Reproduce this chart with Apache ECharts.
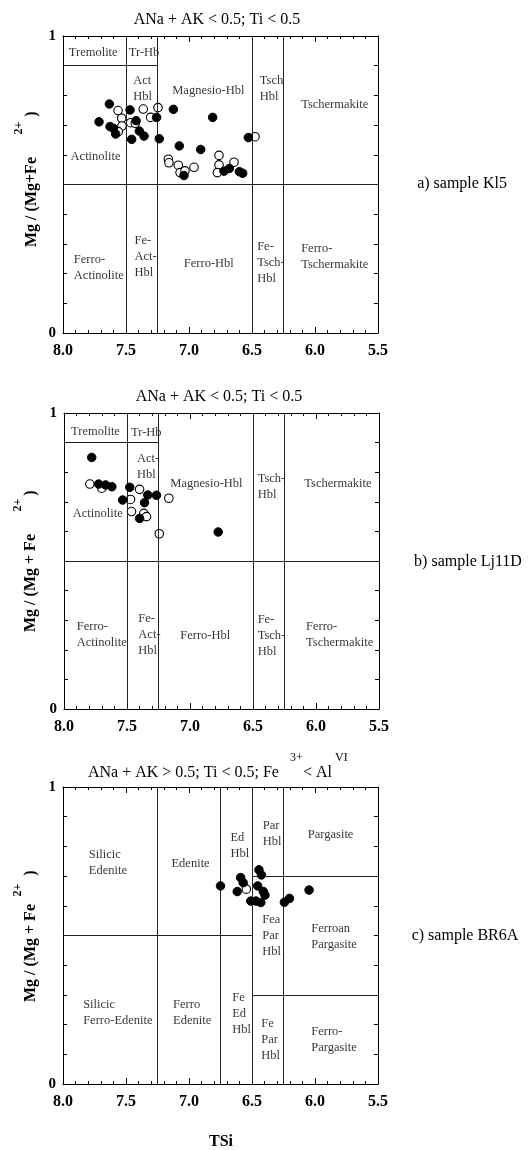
<!DOCTYPE html>
<html><head><meta charset="utf-8">
<script src="https://cdn.jsdelivr.net/npm/echarts@6/dist/echarts.min.js"></script>
<style>html,body{margin:0;padding:0;background:#fff}#c{width:529px;height:1150px}</style>
</head><body><div id="c"></div>
<script>
// ---- data: [TSi, Mg/(Mg+Fe2+)] ----
const kl5Filled = [[7.632,0.771],[7.714,0.711],[7.627,0.695],[7.60,0.689],[7.582,0.670],[7.468,0.751],[7.42,0.715],[7.394,0.680],[7.357,0.663],[7.455,0.652],[7.257,0.726],[7.236,0.654],[7.124,0.753],[7.077,0.630],[6.907,0.618],[6.812,0.726],[6.529,0.658],[7.04,0.530],[6.722,0.545],[6.68,0.554],[6.60,0.543],[6.574,0.538]];
const kl5Open = [[7.563,0.749],[7.534,0.723],[7.532,0.697],[7.561,0.678],[7.463,0.708],[7.426,0.706],[7.363,0.754],[7.304,0.726],[7.246,0.759],[6.476,0.661],[7.164,0.585],[7.159,0.573],[7.085,0.565],[7.071,0.540],[7.032,0.546],[6.96,0.558],[6.762,0.598],[6.762,0.566],[6.775,0.540],[6.643,0.575]];
const lj11dFilled = [[7.78,0.850],[7.725,0.760],[7.67,0.757],[7.62,0.751],[7.478,0.749],[7.535,0.706],[7.335,0.723],[7.266,0.722],[7.361,0.697],[7.40,0.644],[6.776,0.598]];
const lj11dOpen = [[7.795,0.760],[7.70,0.746],[7.472,0.708],[7.40,0.742],[7.464,0.667],[7.367,0.661],[7.345,0.650],[7.168,0.712],[7.244,0.592]];
const br6aFilled = [[6.75,0.667],[6.617,0.648],[6.59,0.695],[6.57,0.678],[6.445,0.721],[6.425,0.704],[6.455,0.667],[6.41,0.648],[6.397,0.636],[6.51,0.616],[6.468,0.616],[6.43,0.611],[6.243,0.612],[6.203,0.625],[6.047,0.653]];
const br6aOpen = [[6.545,0.656]];

// field boundaries [x1,y1,x2,y2]
const boundsCalcic = [[7.5,0,7.5,1],[7.25,0,7.25,1],[6.5,0,6.5,1],[6.25,0,6.25,1],[8,0.5,5.5,0.5],[8,0.9,7.25,0.9]];
const boundsSodic = [[7.25,0,7.25,1],[6.75,0,6.75,1],[6.5,0,6.5,1],[6.25,0,6.25,1],[8,0.5,6.5,0.5],[6.5,0.7,5.5,0.7],[6.5,0.3,5.5,0.3]];

// field names [left TSi, y, text]
const fieldsA = [[7.958,0.945,'Tremolite'],[7.482,0.945,'Tr-Hb'],[7.447,0.824,'Act\nHbl'],[7.137,0.816,'Magnesio-Hbl'],[6.442,0.824,'Tsch\nHbl'],[6.114,0.768,'Tschermakite'],[7.944,0.594,'Actinolite'],[7.918,0.221,'Ferro-\nActinolite'],[7.437,0.257,'Fe-\nAct-\nHbl'],[7.045,0.232,'Ferro-Hbl'],[6.463,0.235,'Fe-\nTsch-\nHbl'],[6.114,0.257,'Ferro-\nTschermakite']];
const fieldsB = [[7.948,0.937,'Tremolite'],[7.472,0.933,'Tr-Hb'],[7.425,0.819,'Act-\nHbl'],[7.16,0.762,'Magnesio-Hbl'],[6.467,0.751,'Tsch-\nHbl'],[6.097,0.760,'Tschermakite'],[7.935,0.661,'Actinolite'],[7.903,0.25,'Ferro-\nActinolite'],[7.414,0.25,'Fe-\nAct-\nHbl'],[7.081,0.247,'Ferro-Hbl'],[6.467,0.247,'Fe-\nTsch-\nHbl'],[6.083,0.25,'Ferro-\nTschermakite']];
const fieldsC = [[7.799,0.745,'Silicic\nEdenite'],[7.143,0.741,'Edenite'],[6.675,0.801,'Ed\nHbl'],[6.418,0.844,'Par\nHbl'],[6.061,0.841,'Pargasite'],[6.423,0.498,'Fea\nPar\nHbl'],[6.034,0.496,'Ferroan\nPargasite'],[7.844,0.24,'Silicic\nFerro-Edenite'],[7.13,0.24,'Ferro\nEdenite'],[6.661,0.238,'Fe\nEd\nHbl'],[6.431,0.148,'Fe\nPar\nHbl'],[6.034,0.148,'Ferro-\nPargasite']];

const xTickLabels = ['5.5','6.0','6.5','7.0','7.5','8.0'];
const sampleNames = ['a) sample Kl5','b) sample Lj11D','c) sample BR6A'];

const SERIF = 'Liberation Serif';
const grids = [
  {left:63, top:36, width:315, height:297},
  {left:64, top:413, width:315, height:296},
  {left:63, top:787, width:315, height:297}
];
const xAxes = [], yAxes = [], series = [];
grids.forEach((g,i)=>{
  const base = {gridIndex:i, type:'value', min:5.5, max:8, interval:0.5, inverse:true,
    axisLine:{show:true, onZero:false, lineStyle:{color:'#000', width:1}},
    axisTick:{show:true, inside:true, length:6, lineStyle:{color:'#000'}},
    minorTick:{show:true, splitNumber:5, length:3, lineStyle:{color:'#000'}},
    splitLine:{show:false}, minorSplitLine:{show:false}};
  xAxes.push(Object.assign({}, base, {position:'bottom',
    axisLabel:{show:true, margin:10, fontFamily:SERIF, fontWeight:'bold', fontSize:16, color:'#000',
      formatter:v=>{const s=Number(v).toFixed(1); return xTickLabels.includes(s)?s:'';}}}));
  xAxes.push(Object.assign({}, base, {position:'top', axisLabel:{show:false}}));
  const ybase = {gridIndex:i, type:'value', min:0, max:1, interval:0.1,
    axisLine:{show:true, onZero:false, lineStyle:{color:'#000', width:1}},
    axisTick:{show:true, inside:true, length:4, lineStyle:{color:'#000'}},
    splitLine:{show:false}};
  yAxes.push(Object.assign({}, ybase, {position:'left',
    axisLabel:{show:true, margin:7, fontFamily:SERIF, fontWeight:'bold', fontSize:15, color:'#000',
      formatter:v=>{ if(Math.abs(v)<1e-6) return '0'; if(Math.abs(v-1)<1e-6) return '1'; return '';}}}));
  yAxes.push(Object.assign({}, ybase, {position:'right', axisLabel:{show:false}}));
});

function segs(b){return b.map(s=>[{coord:[s[0],s[1]]},{coord:[s[2],s[3]]}]);}
const panels = [
  {filled:kl5Filled, open:kl5Open, bounds:boundsCalcic, fields:fieldsA},
  {filled:lj11dFilled, open:lj11dOpen, bounds:boundsCalcic, fields:fieldsB},
  {filled:br6aFilled, open:br6aOpen, bounds:boundsSodic, fields:fieldsC}
];
panels.forEach((p,i)=>{
  const xi = i*2, yi = i*2;
  series.push({type:'scatter', xAxisIndex:xi, yAxisIndex:yi, data:p.fields.map(f=>({value:[f[0],f[1]], name:f[2]})),
    symbolSize:1, itemStyle:{color:'rgba(0,0,0,0)'}, silent:true, z:3,
    label:{show:true, position:'right', distance:0, formatter:d=>d.name, fontFamily:SERIF, fontSize:12.5, lineHeight:16, color:'#000'},
    markLine:{silent:true, symbol:['none','none'], animation:false, label:{show:false},
      lineStyle:{color:'#222', width:1, type:'solid'}, emphasis:{disabled:true}, data:segs(p.bounds)}});
  series.push({type:'scatter', xAxisIndex:xi, yAxisIndex:yi, data:p.open, symbolSize:8.5, z:4,
    itemStyle:{color:'#fff', borderColor:'#000', borderWidth:1.1, opacity:1}});
  series.push({type:'scatter', xAxisIndex:xi, yAxisIndex:yi, data:p.filled, symbolSize:8.5, z:5,
    itemStyle:{color:'#000', borderColor:'#000', borderWidth:1, opacity:1}});
});

const tFont = {fontFamily:SERIF, fontSize:16, fill:'#000'};
const bFont = {fontFamily:SERIF, fontSize:16, fontWeight:'bold', fill:'#000'};
function txt(x,y,text,st,extra){return Object.assign({type:'text', x:x, y:y, silent:true,
  style:Object.assign({text:text, align:'center', verticalAlign:'middle'}, st)}, extra||{});}
const R = Math.PI/2;
const graphic = [
  txt(217,20,'ANa + AK < 0.5; Ti < 0.5',tFont),
  txt(219,397,'ANa + AK < 0.5; Ti < 0.5',tFont),
  txt(88,773,'ANa + AK > 0.5; Ti < 0.5; Fe',Object.assign({},tFont,{align:'left'})),
  txt(290,758,'3+',Object.assign({},tFont,{fontSize:12,align:'left'})),
  txt(303,773,'< Al',Object.assign({},tFont,{align:'left'})),
  txt(335,758,'VI',Object.assign({},tFont,{fontSize:12,align:'left'})),
  txt(462,184,sampleNames[0],tFont),
  txt(468,562,sampleNames[1],tFont),
  txt(465,936,sampleNames[2],tFont),
  txt(221,1142,'TSi',bFont),
  // y-axis titles (rotated)
  txt(32,202,'Mg / (Mg+Fe',bFont,{rotation:R}),
  txt(19,128,'2+',Object.assign({},bFont,{fontSize:12}),{rotation:R}),
  txt(32,114,')',bFont,{rotation:R}),
  txt(31,583,'Mg / (Mg + Fe',bFont,{rotation:R}),
  txt(18,505,'2+',Object.assign({},bFont,{fontSize:12}),{rotation:R}),
  txt(31,493,')',bFont,{rotation:R}),
  txt(31,953,'Mg / (Mg + Fe',bFont,{rotation:R}),
  txt(18,890,'2+',Object.assign({},bFont,{fontSize:12}),{rotation:R}),
  txt(31,873,')',bFont,{rotation:R})
];

const chart = echarts.init(document.getElementById('c'), null, {renderer:'canvas'});
chart.setOption({animation:false, backgroundColor:'#fff', grid:grids, xAxis:xAxes, yAxis:yAxes, series:series, graphic:graphic});
</script></body></html>
